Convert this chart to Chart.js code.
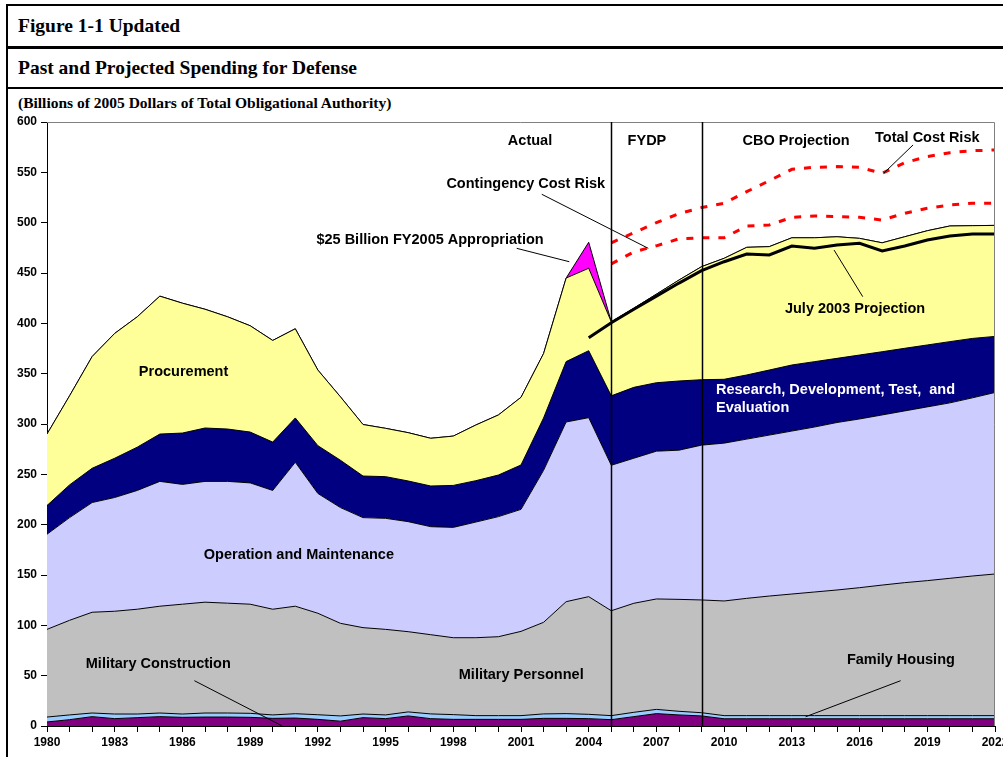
<!DOCTYPE html>
<html>
<head>
<meta charset="utf-8">
<title>Past and Projected Spending for Defense</title>
<script src="https://cdn.jsdelivr.net/npm/chart.js@4.4.1/dist/chart.umd.min.js"></script>
<style>
  html, body { margin: 0; padding: 0; background: #fff; overflow: hidden; }
  body { width: 1003px; height: 757px; position: relative; }
  .rule { position: absolute; background: #000; }
  .hdr { position: absolute; left: 18px; white-space: nowrap; color: #000;
         font-family: "Liberation Serif", "Times New Roman", serif; font-weight: bold; }
  #chartBox { position: absolute; left: 0; top: 92px; width: 1040px; height: 665px; }
</style>
</head>
<body>
<div class="rule" style="left:6px; top:4px; width:1100px; height:2px;"></div>
<div class="rule" style="left:6px; top:4px; width:2px; height:760px;"></div>
<div class="rule" style="left:6px; top:46px; width:1100px; height:3px;"></div>
<div class="rule" style="left:6px; top:87px; width:1100px; height:2px;"></div>
<div class="hdr" style="top:15px; font-size:19.5px; line-height:22px;">Figure 1-1 Updated</div>
<div class="hdr" style="top:57px; font-size:19.5px; line-height:22px;">Past and Projected Spending for Defense</div>
<div class="hdr" style="top:94px; font-size:15.5px; line-height:18px;">(Billions of 2005 Dollars of Total Obligational Authority)</div>
<div id="chartBox"><canvas id="spendChart" width="1040" height="665"></canvas></div>

<script>
(function(){
  'use strict';

  const $ = id => document.getElementById(id);

  // fiscal years on the x axis
  const years = [
    1980, 1981, 1982, 1983, 1984, 1985, 1986, 1987, 1988, 1989,
    1990, 1991, 1992, 1993, 1994, 1995, 1996, 1997, 1998, 1999,
    2000, 2001, 2002, 2003, 2004, 2005, 2006, 2007, 2008, 2009,
    2010, 2011, 2012, 2013, 2014, 2015, 2016, 2017, 2018, 2019,
    2020, 2021, 2022
  ];
  const labelYears = [1980, 1983, 1986, 1989, 1992, 1995, 1998, 2001, 2004, 2007, 2010, 2013, 2016, 2019, 2022];
  const periodBreaks = [2005, 2009];

  // stacked components, billions of 2005 dollars
  const milCon = [
    4.0, 6.3, 9.3, 7.3, 8.3, 9.3, 8.6, 8.9, 8.9, 8.6,
    7.6, 7.9, 6.6, 4.8, 8.3, 7.3, 10.0, 7.3, 6.6, 6.6,
    6.6, 6.6, 7.6, 7.6, 7.3, 6.3, 9.3, 12.3, 11.0, 10.0,
    7.2, 7.2, 7.2, 7.2, 7.2, 7.2, 7.2, 7.2, 7.2, 7.2,
    7.2, 7.2, 7.2
  ];
  const famHousing = [
    4.9, 4.7, 3.6, 4.6, 3.6, 3.6, 3.3, 4.0, 4.0, 4.0,
    3.4, 4.3, 4.6, 5.2, 3.6, 3.7, 4.0, 4.7, 4.7, 3.7,
    3.7, 3.7, 4.4, 4.7, 4.3, 4.0, 4.3, 4.2, 3.6, 3.2,
    3.1, 3.1, 3.1, 3.1, 3.1, 3.1, 3.1, 3.1, 3.1, 3.1,
    3.1, 3.1, 3.1
  ];
  const milPers = [
    87.1, 94.0, 100.1, 102.1, 104.1, 106.1, 109.1, 110.1, 109.1, 108.4,
    105.0, 106.8, 100.8, 92.0, 85.8, 85.0, 79.7, 78.7, 76.4, 77.4,
    78.4, 83.7, 91.0, 111.2, 116.9, 104.2, 108.3, 109.7, 111.2, 112.0,
    113.9, 116.5, 118.8, 120.8, 122.8, 124.8, 127.1, 129.7, 132.1, 134.1,
    136.4, 138.7, 140.7
  ];
  const opMaint = [
    94.5, 102.0, 109.0, 113.0, 118.0, 124.0, 119.0, 120.0, 121.0, 120.5,
    118.0, 143.0, 119.0, 115.0, 109.3, 110.3, 109.3, 107.3, 109.6, 114.9,
    119.3, 121.2, 151.0, 178.5, 177.8, 144.5, 144.1, 146.8, 148.2, 153.8,
    156.8, 158.2, 159.9, 161.9, 163.9, 166.4, 167.6, 169.0, 170.6, 172.6,
    174.3, 177.0, 180.3
  ];
  const rdte = [
    28.5, 32.5, 34.0, 39.0, 43.0, 47.0, 51.0, 53.0, 52.0, 50.5,
    48.0, 44.0, 47.5, 47.0, 41.3, 41.4, 40.4, 40.4, 41.7, 41.1,
    41.3, 44.1, 52.0, 60.0, 66.5, 69.0, 70.4, 68.0, 68.7, 65.0,
    63.4, 63.7, 64.6, 65.6, 64.9, 63.7, 63.5, 62.8, 62.2, 61.5,
    60.8, 59.0, 55.7
  ];
  const procurement = [
    71.0, 88.5, 111.0, 124.0, 129.5, 137.0, 129.0, 118.0, 111.5, 105.6,
    101.0, 88.6, 75.1, 63.0, 51.2, 48.0, 48.0, 47.4, 49.0, 55.3,
    59.7, 67.2, 64.0, 83.0, 81.9, 73.5, 78.6, 88.0, 100.3, 112.3,
    120.2, 126.8, 122.6, 126.4, 123.1, 120.8, 115.9, 108.2, 110.8, 113.5,
    114.9, 112.0, 110.3
  ];
  // $25 billion FY2005 appropriation, on top of the stack
  const supplemental = [
    0, 0, 0, 0, 0, 0, 0, 0, 0, 0,
    0, 0, 0, 0, 0, 0, 0, 0, 0, 0,
    0, 0, 0, 0, 25.8, 0, 0, 0, 0, 0,
    0, 0, 0, 0, 0, 0, 0, 0, 0, 0,
    0, 0, 0
  ];

  // totals drawn as lines
  const july2003 = [
    null, null, null, null, null, null, null, null, null, null,
    null, null, null, null, null, null, null, null, null, null,
    null, null, null, null, 385.7, 400.6, 414.0, 427.0, 440.0, 452.3,
    461.2, 468.9, 468.0, 476.8, 474.5, 477.8, 479.5, 471.9, 476.8, 482.8,
    486.8, 488.7, 488.7
  ];
  const contingencyRisk = [
    null, null, null, null, null, null, null, null, null, null,
    null, null, null, null, null, null, null, null, null, null,
    null, null, null, null, null, 459.0, 471.0, 477.0, 484.0, 485.0,
    485.0, 496.7, 497.7, 505.3, 506.6, 506.0, 505.3, 502.6, 509.3, 514.3,
    517.6, 519.3, 519.3
  ];
  const totalRisk = [
    null, null, null, null, null, null, null, null, null, null,
    null, null, null, null, null, null, null, null, null, null,
    null, null, null, null, null, 480.0, 490.0, 500.0, 509.0, 515.0,
    519.3, 530.8, 541.7, 553.0, 555.0, 555.7, 555.0, 549.0, 559.6, 565.6,
    569.5, 571.5, 572.2
  ];

  // text labels placed in data units (year, billions)
  const notes = [
    { text: 'Actual', x: 2001.4, y: 581 },
    { text: 'FYDP', x: 2006.58, y: 581 },
    { text: 'CBO Projection', x: 2013.19, y: 581 },
    { text: 'Total Cost Risk', x: 2019.0, y: 584 },
    { text: 'Contingency Cost Risk', x: 2001.21, y: 538.4 },
    { text: '$25 Billion FY2005 Appropriation', x: 1996.97, y: 482.8 },
    { text: 'Procurement', x: 1986.05, y: 351.7 },
    { text: 'Operation and Maintenance', x: 1991.16, y: 169.4 },
    { text: 'Military Construction', x: 1984.93, y: 61.6 },
    { text: 'Military Personnel', x: 2001.01, y: 50.2 },
    { text: 'Family Housing', x: 2017.83, y: 65.6 },
    { text: 'July 2003 Projection', x: 2015.8, y: 414.7 },
    { text: 'Research, Development, Test,  and', x: 2009.64, y: 333.8, align: 'left', color: '#fff' },
    { text: 'Evaluation', x: 2009.64, y: 315.4, align: 'left', color: '#fff' }
  ];
  const leaders = [
    [2018.37, 577.2, 2017.08, 549.3],
    [2001.92, 528.2, 2006.64, 474.5],
    [2000.81, 474.5, 2003.14, 461.2],
    [2014.87, 472.8, 2016.14, 426.5],
    [1986.53, 45.0, 1990.4, 0.3],
    [2017.82, 45.0, 2013.61, 9.2]
  ];

  const pts = arr => arr.map((v, i) => ({ x: years[i], y: v }));
  const FONT = '"Liberation Sans", Arial, sans-serif';

  function area(label, data, color, first){
    return {
      label: label,
      data: pts(data),
      stack: 'main',
      order: 1,
      fill: first ? 'origin' : '-1',
      backgroundColor: color,
      borderColor: '#000',
      borderWidth: 1,
      pointRadius: 0,
      tension: 0
    };
  }

  // gray frame on top/right, period dividers and callouts
  const decorations = {
    id: 'decorations',
    afterDatasetsDraw(chart){
      const ctx = chart.ctx;
      const a = chart.chartArea;
      const xs = chart.scales.x, ys = chart.scales.y;
      ctx.save();
      ctx.strokeStyle = '#808080';
      ctx.lineWidth = 1;
      ctx.beginPath();
      ctx.moveTo(a.left, a.top + 0.5);
      ctx.lineTo(a.right - 0.5, a.top + 0.5);
      ctx.lineTo(a.right - 0.5, a.bottom);
      ctx.stroke();

      ctx.strokeStyle = '#000';
      ctx.lineWidth = 1.5;
      periodBreaks.forEach(yr => {
        const px = Math.round(xs.getPixelForValue(yr)) + 0.5;
        ctx.beginPath();
        ctx.moveTo(px, a.top);
        ctx.lineTo(px, a.bottom);
        ctx.stroke();
      });

      ctx.lineWidth = 1;
      leaders.forEach(l => {
        ctx.beginPath();
        ctx.moveTo(xs.getPixelForValue(l[0]), ys.getPixelForValue(l[1]));
        ctx.lineTo(xs.getPixelForValue(l[2]), ys.getPixelForValue(l[3]));
        ctx.stroke();
      });

      ctx.font = 'bold 14.5px ' + FONT;
      ctx.textBaseline = 'middle';
      notes.forEach(n => {
        ctx.fillStyle = n.color || '#000';
        ctx.textAlign = n.align || 'center';
        ctx.fillText(n.text, xs.getPixelForValue(n.x), ys.getPixelForValue(n.y));
      });
      ctx.restore();
    }
  };

  try {
    const canvas = $('spendChart');
    new Chart(canvas.getContext('2d'), {
      type: 'line',
      data: {
        datasets: [
          area('Military Construction', milCon, '#800080', true),
          area('Family Housing', famHousing, '#99CCFF'),
          area('Military Personnel', milPers, '#C0C0C0'),
          area('Operation and Maintenance', opMaint, '#CCCCFF'),
          area('Research, Development, Test, and Evaluation', rdte, '#000080'),
          area('Procurement', procurement, '#FFFF99'),
          area('$25 Billion FY2005 Appropriation', supplemental, '#FF00FF'),
          {
            label: 'July 2003 Projection',
            data: pts(july2003),
            stack: 'july',
            order: 0,
            fill: false,
            borderColor: '#000',
            borderWidth: 3,
            pointRadius: 0,
            tension: 0
          },
          {
            label: 'Contingency Cost Risk',
            data: pts(contingencyRisk),
            stack: 'contingency',
            order: 0,
            fill: false,
            borderColor: '#FF0000',
            borderWidth: 3,
            borderDash: [7, 9],
            pointRadius: 0,
            tension: 0
          },
          {
            label: 'Total Cost Risk',
            data: pts(totalRisk),
            stack: 'total',
            order: 0,
            fill: false,
            borderColor: '#FF0000',
            borderWidth: 3,
            borderDash: [7, 9],
            pointRadius: 0,
            tension: 0
          }
        ]
      },
      options: {
        responsive: false,
        animation: false,
        layout: { padding: { left: 0, top: 30, right: 45, bottom: 0 } },
        scales: {
          x: {
            type: 'linear',
            min: 1980,
            max: 2022,
            afterFit: s => { s.height = 31; },
            border: { color: '#000', width: 1 },
            grid: { drawOnChartArea: false, color: '#000', tickLength: 6 },
            ticks: {
              stepSize: 1,
              autoSkip: false,
              maxRotation: 0,
              padding: 3,
              color: '#000',
              font: { family: FONT, size: 12, weight: 'bold' },
              callback: v => labelYears.includes(v) ? String(v) : ''
            }
          },
          y: {
            stacked: true,
            min: 0,
            max: 600,
            afterFit: s => { s.width = 47; },
            border: { color: '#000', width: 1 },
            grid: { drawOnChartArea: false, color: '#000', tickLength: 6 },
            ticks: {
              stepSize: 50,
              padding: 4,
              color: '#000',
              font: { family: FONT, size: 12, weight: 'bold' }
            }
          }
        },
        plugins: {
          legend: { display: false },
          tooltip: { enabled: false }
        }
      },
      plugins: [decorations]
    });
  } catch(e){ console.error('spend chart error', e); }
})();
</script>
</body>
</html>
